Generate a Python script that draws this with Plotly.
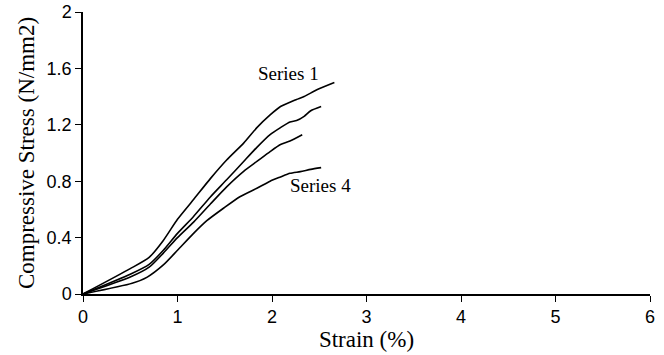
import plotly.graph_objects as go

# Data (strain %, compressive stress N/mm2)
s1_x = [0, 0.5, 0.7, 0.85, 1.0, 1.17, 1.35, 1.52, 1.7, 1.84, 1.98, 2.09, 2.19, 2.26, 2.34, 2.48, 2.66]
s1_y = [0, 0.18, 0.26, 0.38, 0.53, 0.67, 0.82, 0.95, 1.07, 1.18, 1.27, 1.33, 1.36, 1.38, 1.40, 1.45, 1.50]

s2_x = [0, 0.5, 0.7, 0.85, 1.0, 1.17, 1.35, 1.52, 1.7, 1.84, 1.98, 2.09, 2.19, 2.26, 2.34, 2.41, 2.52]
s2_y = [0, 0.14, 0.21, 0.31, 0.43, 0.55, 0.69, 0.81, 0.94, 1.04, 1.13, 1.18, 1.22, 1.23, 1.26, 1.30, 1.33]

s3_x = [0, 0.5, 0.7, 0.85, 1.0, 1.17, 1.35, 1.52, 1.7, 1.84, 1.98, 2.09, 2.19, 2.32]
s3_y = [0, 0.12, 0.19, 0.29, 0.40, 0.51, 0.64, 0.76, 0.87, 0.94, 1.01, 1.06, 1.085, 1.13]

s4_x = [0, 0.52, 0.68, 0.85, 1.0, 1.17, 1.31, 1.49, 1.66, 1.84, 1.98, 2.09, 2.19, 2.30, 2.41, 2.52]
s4_y = [0, 0.076, 0.12, 0.206, 0.31, 0.43, 0.52, 0.61, 0.69, 0.75, 0.80, 0.83, 0.856, 0.868, 0.884, 0.896]

x_ticks = [0, 1, 2, 3, 4, 5, 6]
y_ticks = [0, 0.4, 0.8, 1.2, 1.6, 2]
y_tick_labels = ["0", "0.4", "0.8", "1.2", "1.6", "2"]

series = [("Series 1", s1_x, s1_y), ("Series 2", s2_x, s2_y),
          ("Series 3", s3_x, s3_y), ("Series 4", s4_x, s4_y)]

fig = go.Figure()
for name, xs, ys in series:
    fig.add_trace(go.Scatter(x=xs, y=ys, mode="lines", name=name,
                             line=dict(color="black", width=1.6, shape="spline", smoothing=0.6),
                             showlegend=False, hoverinfo="skip", cliponaxis=False))

fig.add_annotation(x=2.17, y=1.567, text="Series 1", showarrow=False,
                   font=dict(family="Liberation Serif", size=19, color="black"))
fig.add_annotation(x=2.516, y=0.766, text="Series 4", showarrow=False,
                   font=dict(family="Liberation Serif", size=19, color="black"))

fig.update_layout(
    width=664, height=355,
    margin=dict(l=83, r=14, t=12, b=61, autoexpand=False),
    paper_bgcolor="white", plot_bgcolor="white",
    font=dict(family="Liberation Sans", size=18, color="black"),
)
fig.update_xaxes(range=[0, 6], tickvals=x_ticks, ticks="outside", ticklen=6, tickwidth=1.2,
                 tickcolor="black", showline=True, linecolor="black", linewidth=1.5,
                 showgrid=False, zeroline=False, automargin=False,
                 title=dict(text="Strain (%)", font=dict(family="Liberation Serif", size=23), standoff=2))
fig.update_yaxes(range=[0, 2], tickvals=y_ticks, ticktext=y_tick_labels, ticks="outside", ticklen=6,
                 tickwidth=1.2, tickcolor="black", showline=True, linecolor="black", linewidth=1.5,
                 showgrid=False, zeroline=False, automargin=False,
                 title=dict(text="Compressive Stress (N/mm2)", font=dict(family="Liberation Serif", size=23), standoff=6))

fig.write_html("out.html", config={"displayModeBar": False},
               post_script="document.body.style.margin='0';document.body.style.overflow='hidden';")
